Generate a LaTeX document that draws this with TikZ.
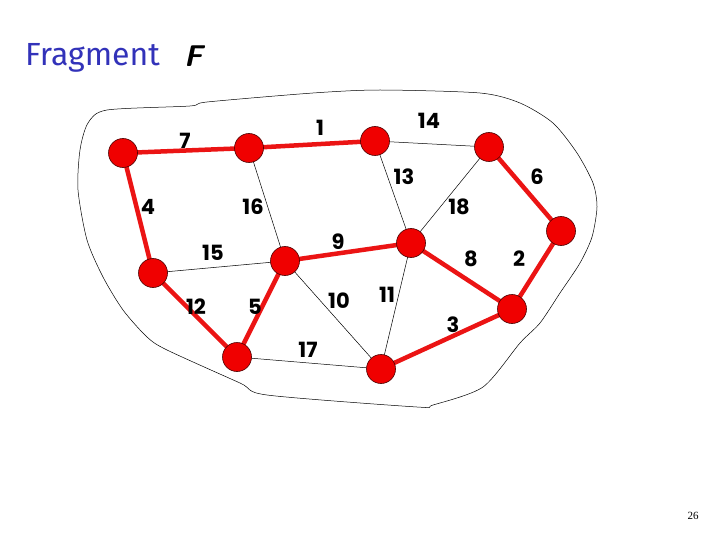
\documentclass[tikz,border=0pt]{standalone}
\usepackage{fontspec}
\newfontfamily\labelfont{Poppins}
\newfontfamily\titlefont{Fira Sans}
\newfontfamily\pagefont{Liberation Serif}
\usepackage{xcolor}
\definecolor{nodered}{RGB}{240,0,0}
\definecolor{edgered}{RGB}{235,20,20}
\definecolor{titleblue}{RGB}{50,50,185}

\begin{document}
\begin{tikzpicture}[
    x=1pt, y=-1pt,
    vertex/.style={circle, draw=black!70!red, line width=0.6pt, fill=nodered, minimum size=29pt, inner sep=0pt},
    treeedge/.style={edgered, line width=4.5pt},
    plainedge/.style={black, line width=0.5pt},
    wlabel/.style={font=\labelfont\bfseries\fontsize{21}{21}\selectfont, inner sep=0pt}
]
\useasboundingbox (0,0) rectangle (720,540);
\node[font=\titlefont\fontsize{32}{32}\selectfont, text=titleblue, anchor=base west, inner sep=0pt] (title) at (25,66) {Fragment};
\node[font=\sffamily\bfseries\itshape\fontsize{30}{30}\selectfont, anchor=base west, inner sep=0pt] (fname) at (184,67) {F};
\draw[black, line width=0.5pt] plot[smooth cycle, tension=0.45] coordinates {
    (107,110) (190,106) (207,102) (313,93) (380,90) (480,93) (520,103)
    (553,123) (577,153) (593,183) (597,207) (592,237) (580,263) (560,293)
    (540,323) (520,343) (483,387) (433,405) (417,407) (267,395) (240,383)
    (167,350) (147,337) (123,310) (103,277) (87,240) (78,190) (80,150) (88,123)};
% vertices
\foreach \name/\px/\py in {a/123/153, b/249/148, c/375/141, d/489/147, e/561/231,
    f/153/273, g/285/261, h/411/243, i/512/309, j/237/357, k/381/369} {
    \coordinate (\name) at (\px,\py);
}
% edges of the fragment
\foreach \u/\v in {c/d, b/g, c/h, d/h, f/g, g/k, h/k, j/k} {
    \draw[plainedge] (\u) -- (\v);
}
\foreach \u/\v in {a/b, b/c, d/e, a/f, g/h, h/i, e/i, f/j, g/j, k/i} {
    \draw[treeedge] (\u) -- (\v);
}
\foreach \name in {a,b,c,d,e,f,g,h,i,j,k} {
    \node[vertex] (v\name) at (\name) {};
}
% weights
\foreach \w/\px/\py in {7/185/141, 1/320/128, 14/429/121, 13/404/177, 6/537/177,
    4/148/207, 16/253/207, 18/459/207, 9/338/242, 15/213/253, 8/471/259,
    2/519/259, 12/196/307, 5/255/307, 10/339/301, 11/387/295, 3/453/325, 17/308/350} {
    \node[wlabel] (w\w) at (\px,\py) {\w};
}
\node[font=\pagefont\fontsize{11}{11}\selectfont] (page) at (693,516) {26};
\end{tikzpicture}
\end{document}
